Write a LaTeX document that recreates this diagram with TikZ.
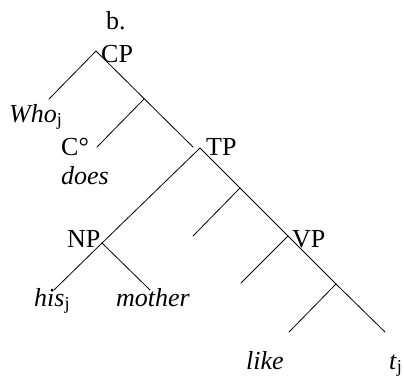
\documentclass[tikz,border=0pt]{standalone}
\usepackage{fontspec}
\setmainfont{Liberation Serif}
\begin{document}
\begin{tikzpicture}[x=1pt,y=-1pt,
    branch/.style={line width=0.8pt,line cap=round},
    lbl/.style={anchor=base west,inner sep=0pt,font=\rmfamily\fontsize{26}{31}\selectfont}]
\useasboundingbox (0,0) rectangle (404,376);
% branching points
\coordinate (cp)    at (96,51);
\coordinate (cbar)  at (144,99);
\coordinate (who)   at (49,99);
\coordinate (c0)    at (97,147);
\coordinate (cpend) at (193,147);
\coordinate (tp)    at (200,148);
\coordinate (np)    at (102,243);
\coordinate (npl)   at (54,290);
\coordinate (npr)   at (150,290);
\coordinate (tbar)  at (240,188);
\coordinate (tbarl) at (193,236);
\coordinate (vp)    at (288,236);
\coordinate (vpl)   at (241,283);
\coordinate (vbar)  at (336,284);
\coordinate (vbarl) at (289,332);
\coordinate (vbarr) at (385,332);
% labels
\node[lbl] (b)      at (106,29)  {b.};
\node[lbl] (cplab)  at (101,62)  {CP};
\node[lbl] (wholab) at (9,122)   {\textit{Who}\textsubscript{j}};
\node[lbl] (clab)   at (61,155)  {C°};
\node[lbl] (does)   at (61,184)  {\textit{does}};
\node[lbl] (tplab)  at (206,155) {TP};
\node[lbl] (nplab)  at (67,247)  {NP};
\node[lbl] (vplab)  at (292,247) {VP};
\node[lbl] (his)    at (34,306)  {\textit{his}\textsubscript{j}};
\node[lbl] (mother) at (116,306) {\textit{mother}};
\node[lbl] (like)   at (246,369) {\textit{like}};
\node[lbl] (trace)  at (389,369) {\textit{t}\textsubscript{j}};
% tree branches
\draw[branch] (who) -- (cp) -- (cpend);
\draw[branch] (cbar) -- (c0);
\draw[branch] (np) -- (tp) -- (tbar) -- (vp) -- (vbar) -- (vbarr);
\draw[branch] (tbar) -- (tbarl);
\draw[branch] (npl) -- (np) -- (npr);
\draw[branch] (vp) -- (vpl);
\draw[branch] (vbar) -- (vbarl);
\end{tikzpicture}
\end{document}
